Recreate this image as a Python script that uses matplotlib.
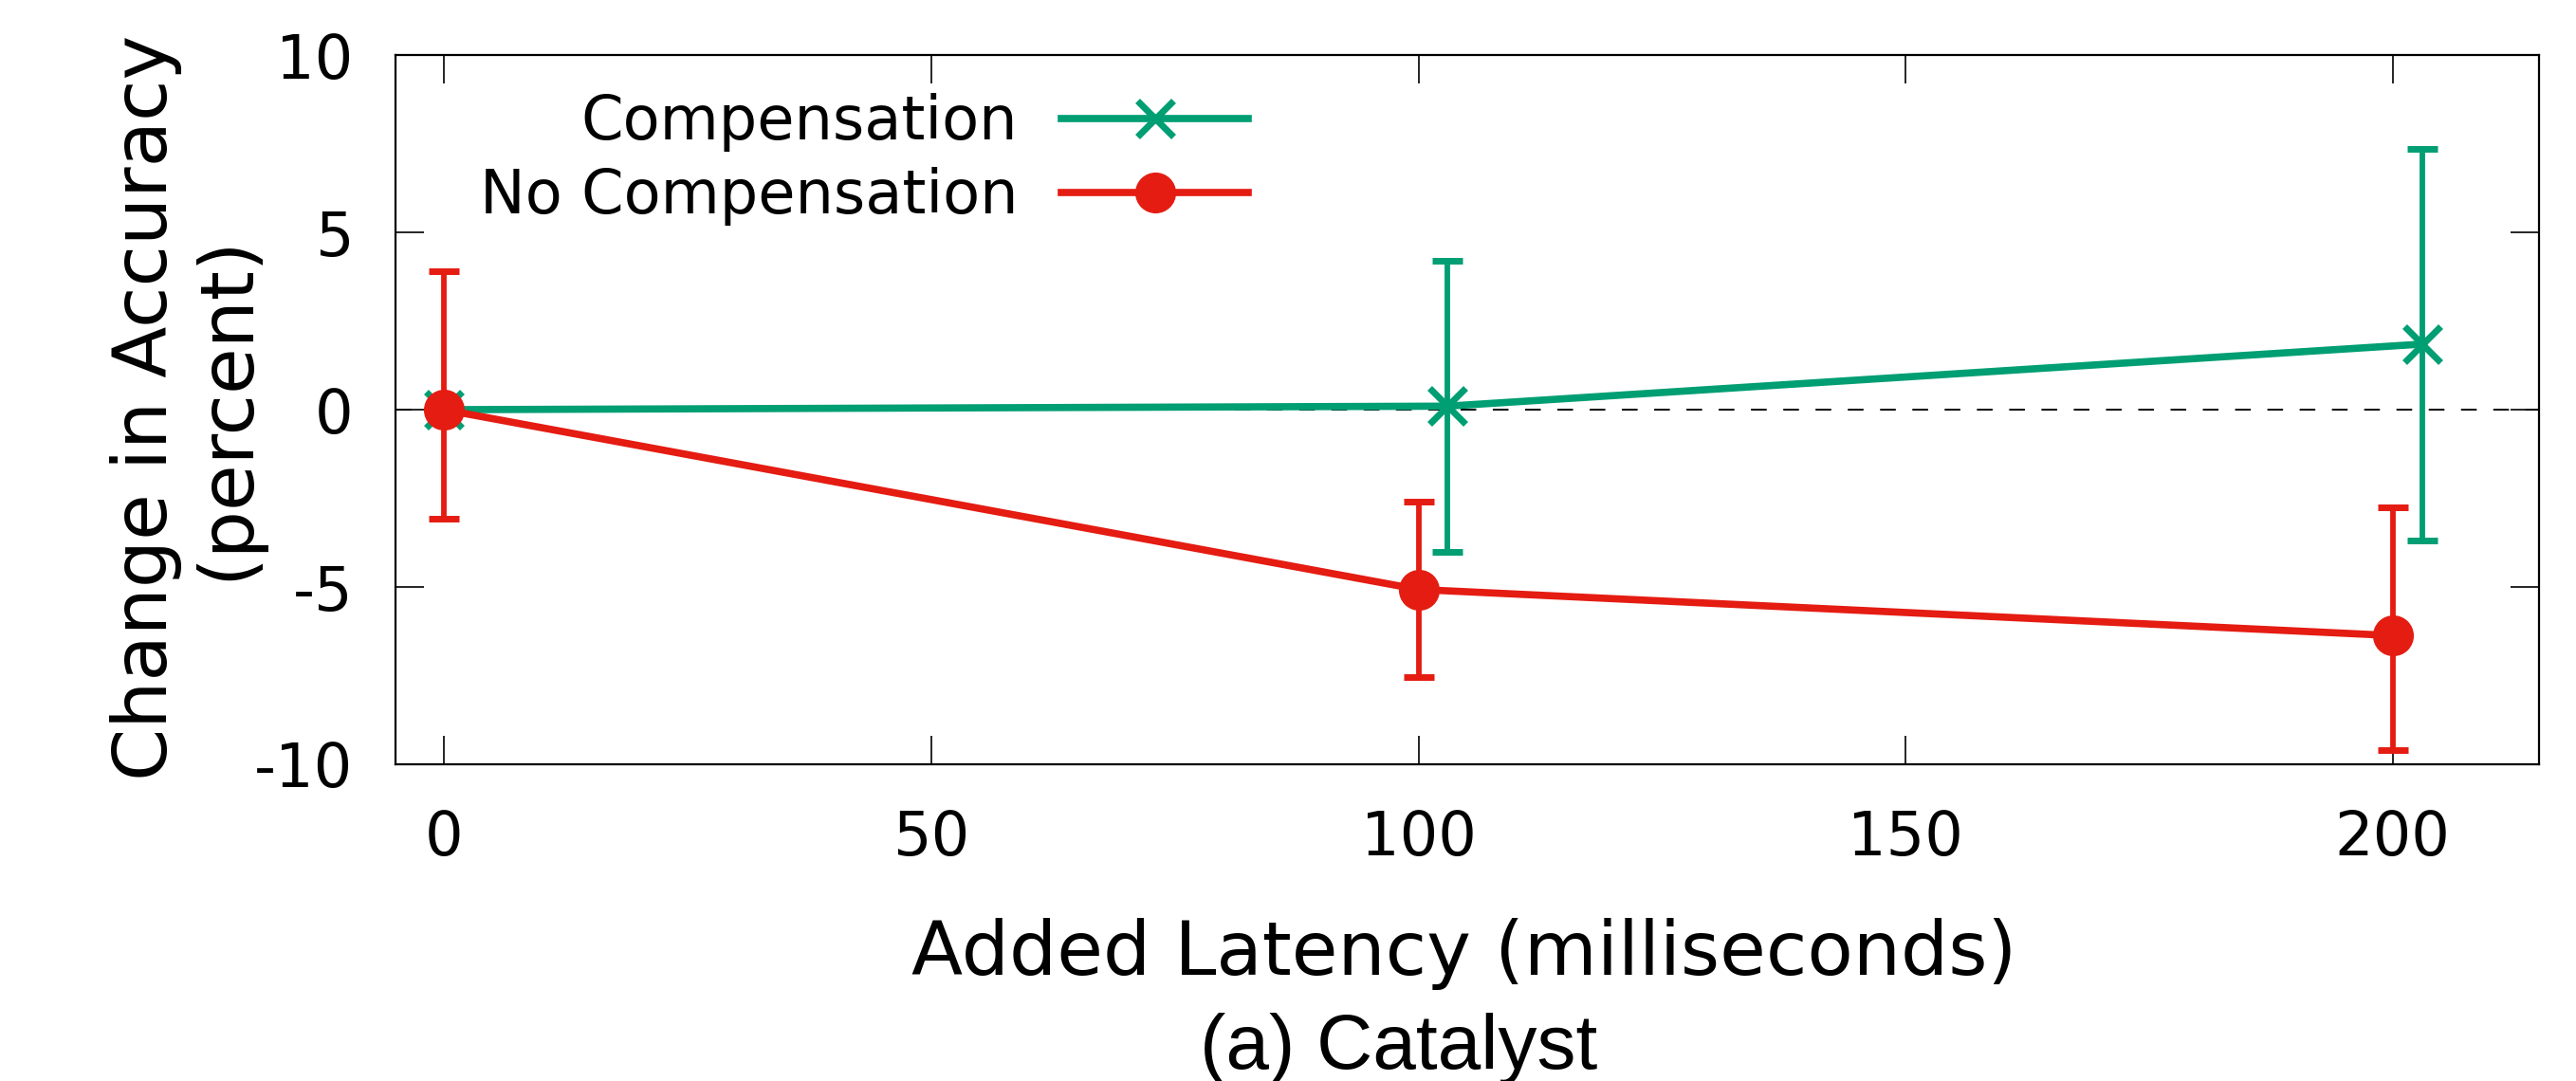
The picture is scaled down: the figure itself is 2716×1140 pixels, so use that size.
import numpy as np
import matplotlib
matplotlib.use("Agg")
import matplotlib.pyplot as plt

# data
latency = [0, 100, 200]
comp_x = [0, 103, 203]          # compensation points are drawn a bit to the right
comp_mean = [0.0, 0.1, 1.85]
comp_low = [-0.1, -4.0, -3.7]
comp_high = [0.1, 4.2, 7.35]
nocomp_mean = [0.0, -5.07, -6.37]
nocomp_low = [-3.08, -7.53, -9.6]
nocomp_high = [3.91, -2.6, -2.75]

xticks = [0, 50, 100, 150, 200]
yticks = [-10, -5, 0, 5, 10]

green = '#009e73'
red = '#e41c12'

plt.rcParams['font.family'] = ['DejaVu Sans']
plt.rcParams['axes.unicode_minus'] = False

fig = plt.figure(figsize=(27.16, 11.40), dpi=100)
ax = fig.add_axes([0.1535, 0.293, 0.9856 - 0.1535, 0.949 - 0.293])

ax.axhline(0, color='black', lw=1.4, ls=(0, (8.5, 9)), zorder=1)

# compensation
cm = np.array(comp_mean)
ax.errorbar(comp_x, cm, yerr=[cm - np.array(comp_low), np.array(comp_high) - cm],
            fmt='none', ecolor=green, elinewidth=4.2, capsize=11.5, capthick=5, zorder=2)
ax.plot(comp_x, cm, color=green, lw=5.5, marker='x', ms=27, mew=5,
        label='Compensation', zorder=3)

# no compensation
nm = np.array(nocomp_mean)
ax.errorbar(latency, nm, yerr=[nm - np.array(nocomp_low), np.array(nocomp_high) - nm],
            fmt='none', ecolor=red, elinewidth=4.2, capsize=11.5, capthick=5, zorder=4)
ax.plot(latency, nm, color=red, lw=5.5, marker='o', ms=30,
        label='No Compensation', zorder=5)

ax.set_xlim(-5, 215)
ax.set_ylim(-10, 10)
ax.set_xticks(xticks)
ax.set_yticks(yticks)
ax.tick_params(direction='in', length=21.6, width=1.2, labelsize=46,
               top=True, right=True)
ax.tick_params(axis='x', pad=34)
ax.tick_params(axis='y', pad=32)
for s in ax.spines.values():
    s.set_linewidth(1.6)

leg = ax.legend(loc='center right', bbox_to_anchor=(1316 / 2716, 1 - 168 / 1140),
                bbox_transform=fig.transFigure, frameon=False, markerfirst=False,
                fontsize=46, handlelength=3.08, handletextpad=0.72,
                labelspacing=0.25, borderpad=0, borderaxespad=0, numpoints=1)
for t in leg.get_texts():
    t.set_ha('right')

fig.text(0.0725, 1 - 430 / 1140, 'Change in Accuracy\n(percent)', rotation=90,
         ha='center', va='center', multialignment='center', fontsize=57,
         linespacing=1.15)
fig.text(1544 / 2716, 1 - 1028 / 1140, 'Added Latency (milliseconds)',
         ha='center', va='baseline', fontsize=57)
fig.text(1475 / 2716, 1 - 1127 / 1140, '(a) Catalyst', ha='center', va='baseline',
         fontsize=59, family='Liberation Sans')

fig.savefig('out.png', dpi=100)
